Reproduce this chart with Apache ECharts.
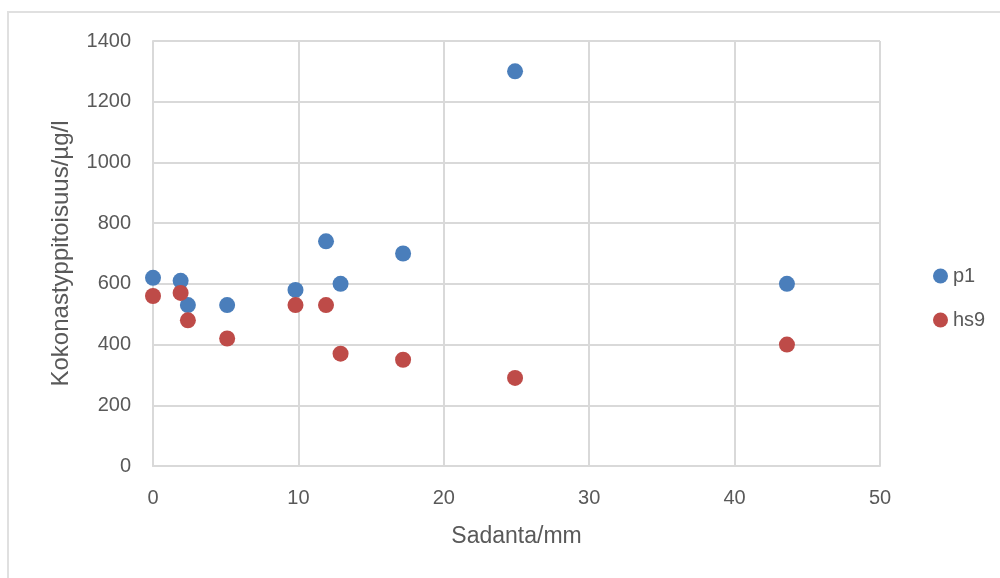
<!DOCTYPE html>
<html><head><meta charset="utf-8">
<script src="https://cdn.jsdelivr.net/npm/echarts@6/dist/echarts.min.js"></script>
<style>html,body{margin:0;padding:0;background:#fff;overflow:hidden}#c{width:1000px;height:578px}
#frame{position:absolute;left:7px;top:11px;width:1010px;height:600px;border:2px solid #e0e0e0;box-sizing:border-box;pointer-events:none}</style>
</head><body><div id="c"></div><div id="frame"></div>
<script>
const xP1 = [0, 1.9, 2.4, 5.1, 9.8, 11.9, 12.9, 17.2, 24.9, 43.6];
const yP1 = [620, 610, 530, 530, 580, 740, 600, 700, 1300, 600];
const xHs9 = [0, 1.9, 2.4, 5.1, 9.8, 11.9, 12.9, 17.2, 24.9, 43.6];
const yHs9 = [560, 570, 480, 420, 530, 530, 370, 350, 290, 400];
const seriesNames = ['p1', 'hs9'];
const xTitle = 'Sadanta/mm';
const yTitle = 'Kokonastyppitoisuus/µg/l';

const font = '"Liberation Sans", Calibri, sans-serif';
const chart = echarts.init(document.getElementById('c'));
chart.setOption({
  animation: false,
  grid: {left: 153, top: 41, width: 727, height: 425},
  legend: {
    orient: 'vertical', left: 928, top: 261, itemGap: 24,
    icon: 'circle', itemWidth: 15, itemHeight: 15,
    textStyle: {fontFamily: font, fontSize: 20, color: '#595959'},
    data: seriesNames
  },
  xAxis: {
    type: 'value', min: 0, max: 50, interval: 10,
    name: xTitle, nameLocation: 'middle', nameGap: 59,
    nameTextStyle: {fontFamily: font, fontSize: 23, color: '#595959'},
    axisLine: {show: true, lineStyle: {color: '#d9d9d9', width: 2}},
    axisTick: {show: false},
    axisLabel: {fontFamily: font, fontSize: 20, color: '#595959', margin: 22},
    splitLine: {show: true, lineStyle: {color: '#d9d9d9', width: 2}}
  },
  yAxis: {
    type: 'value', min: 0, max: 1400, interval: 200,
    name: yTitle, nameLocation: 'middle', nameGap: 80, nameRotate: 90,
    nameTextStyle: {fontFamily: font, fontSize: 24, color: '#595959'},
    axisLine: {show: true, lineStyle: {color: '#d9d9d9', width: 2}},
    axisTick: {show: false},
    axisLabel: {fontFamily: font, fontSize: 20, color: '#595959', margin: 22,
                formatter: v => String(v)},
    splitLine: {show: true, lineStyle: {color: '#d9d9d9', width: 2}}
  },
  series: [
    {name: seriesNames[0], type: 'scatter', symbolSize: 16,
     itemStyle: {color: '#4a7ebb', opacity: 1},
     data: xP1.map((x, i) => [x, yP1[i]])},
    {name: seriesNames[1], type: 'scatter', symbolSize: 16,
     itemStyle: {color: '#be4b48', opacity: 1},
     data: xHs9.map((x, i) => [x, yHs9[i]])}
  ]
});
</script></body></html>
